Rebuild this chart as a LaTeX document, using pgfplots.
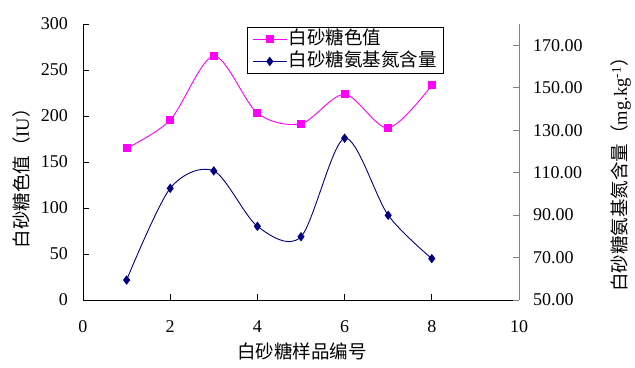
\documentclass[border=0pt]{standalone}
\usepackage{fontspec}
\setmainfont{Liberation Serif}
\newfontfamily\cjk{Noto Sans CJK SC}
\usepackage{pgfplots}
\pgfplotsset{compat=1.18}
\definecolor{pinkc}{HTML}{FF00FF}
\definecolor{navyc}{HTML}{000080}
\definecolor{axgray}{HTML}{808080}
\newcommand{\numfont}{\fontsize{18}{21}\selectfont}
\newcommand{\cjkfont}{\cjk\fontsize{18.5}{22}\selectfont}
\begin{document}
\begin{tikzpicture}
\begin{axis}[
  name=ax,
  scale only axis, width=436pt, height=276pt,
  xmin=0, xmax=10, ymin=0, ymax=300,
  xtick={0,2,...,10}, ytick={0,50,...,300},
  axis x line*=bottom, axis y line*=left,
  tick align=inside, major tick length=6pt,
  axis line style={black, line width=0.8pt},
  every tick/.style={black, line width=0.8pt},
  /pgf/number format/assume math mode=true,
  tick label style={font=\numfont},
  yticklabel style={anchor=east, inner sep=0pt, xshift=-15pt},
  xticklabel style={anchor=north, inner sep=0pt, yshift=-20pt},
  xlabel={\cjkfont 白砂糖样品编号},
  xlabel style={at={(axis description cs:0.502,-0.188)}, anchor=center},
  ylabel={\cjkfont 白砂糖色值（\fontspec{Liberation Serif}IU\cjk ）},
  ylabel style={at={(axis description cs:-0.140,0.457)}, anchor=center},
]
\addplot[pinkc, line width=0.9pt, smooth, mark=square*, mark size=3.5pt, mark options={solid}]
  coordinates {(1,164.9) (2,195.7) (3,265.2) (4,203.0) (5,191.6) (6,223.6) (7,187.0) (8,233.4)};
\end{axis}
\begin{axis}[
  scale only axis, width=436pt, height=276pt,
  xmin=0, xmax=10, ymin=50, ymax=180,
  ytick={50,70,...,170},
  axis y line*=right, axis x line=none,
  tick align=inside, major tick length=6pt,
  axis line style={axgray, line width=0.8pt},
  every tick/.style={axgray, line width=0.8pt},
  /pgf/number format/assume math mode=true,
  yticklabel style={font=\numfont, anchor=west, inner sep=0pt, xshift=14pt,
    /pgf/number format/.cd, fixed, fixed zerofill, precision=2},
  ylabel={\cjkfont 白砂糖氨基氮含量（\fontspec{Liberation Serif}mg.kg\textsuperscript{-1}\cjk ）},
  ylabel style={at={(axis description cs:1.234,0.471)}, anchor=center},
  legend style={at={(axis description cs:0.376,0.989)}, anchor=north west,
    draw=black, line width=0.8pt, fill=white, inner xsep=5pt, inner ysep=1pt,
    font=\cjkfont, row sep=0pt,
    nodes={inner sep=1.5pt, text height=15pt, text depth=4pt}},
  legend cell align=left,
  legend image code/.code={\draw[mark repeat=2, mark phase=2, line width=0.9pt]
    plot coordinates {(0pt,0pt) (17pt,0pt) (34pt,0pt)};},
]
\addlegendimage{pinkc, mark=square*, mark size=3.5pt, mark options={solid}}
\addlegendentry{白砂糖色值}
\addplot[navyc, line width=0.9pt, smooth, mark=diamond*, mark size=4pt, mark options={solid}]
  coordinates {(1,59.4) (2,102.6) (3,110.8) (4,84.7) (5,79.8) (6,126.2) (7,89.9) (8,69.5)};
\addlegendentry{白砂糖氨基氮含量}
\end{axis}
\pgfresetboundingbox
\path[use as bounding box] ([xshift=-83pt,yshift=-68pt]ax.south west) rectangle ([xshift=116pt,yshift=24pt]ax.north east);
\end{tikzpicture}
\end{document}
